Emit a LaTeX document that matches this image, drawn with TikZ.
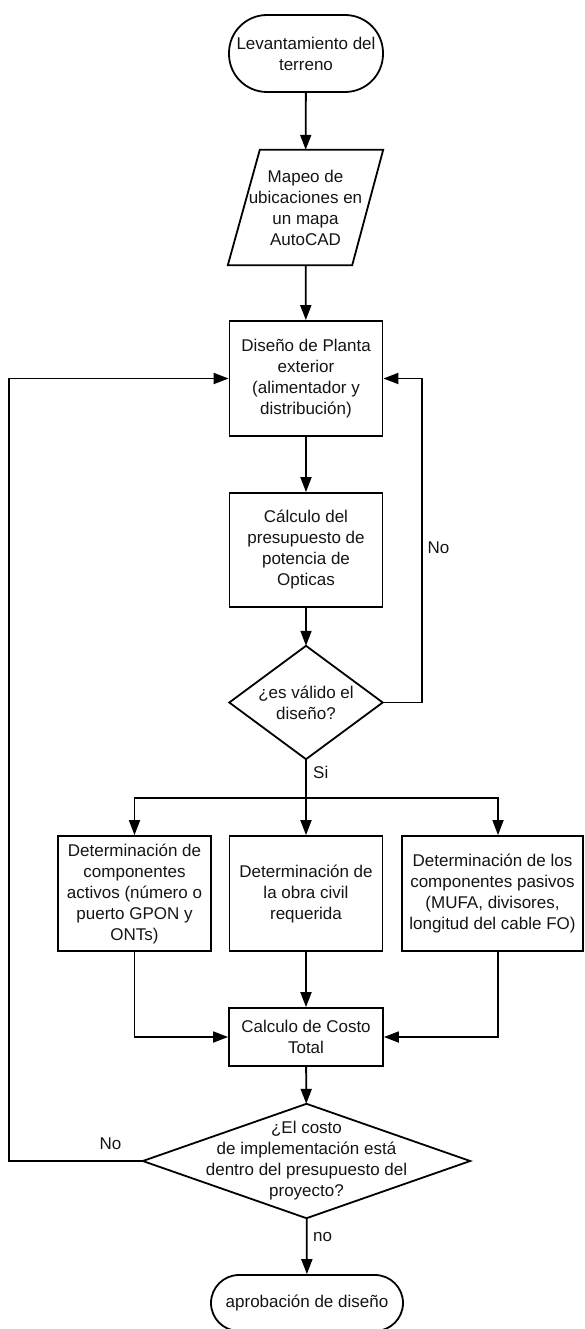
\documentclass[tikz,border=0pt]{standalone}
\usepackage{fontspec}
\setmainfont{Liberation Sans}
\usetikzlibrary{arrows.meta}
\begin{document}
\begin{tikzpicture}[x=1pt,y=-1pt,
  line/.style={line width=1.8pt, line join=miter},
  arr/.style={line, -{Triangle[length=15pt,width=11pt]}},
  txt/.style={font=\fontsize{17}{21}\selectfont, align=center, inner sep=0pt, text=black!92},
  box/.style={txt, draw, line width=1.8pt, minimum width=153pt, minimum height=115pt},
  terminal/.style={box, minimum width=154pt, minimum height=77pt, rounded corners=38pt},
  lbl/.style={font=\fontsize{17}{21}\selectfont, inner sep=0pt, text=black!92},
]
\useasboundingbox (0,0) rectangle (584,1329);
\clip (0,0) rectangle (584,1329);

% process nodes
\node[terminal] (start) at (306,53.5) {Levantamiento del\\terreno};
\node[txt, minimum width=155pt, minimum height=115pt] (mapeo) at (305.5,207.5)
  {Mapeo de\\ubicaciones en\\un mapa\\AutoCAD};
\draw[line] ([xshift=32pt]mapeo.north west) -- (mapeo.north east)
  -- ([xshift=-31pt]mapeo.south east) -- (mapeo.south west) -- cycle;
\node[box] (diseno) at (306,378.5) {Diseño de Planta\\exterior\\(alimentador y\\distribución)};
\node[box, minimum height=114pt] (calc) at (306,550) {Cálculo del\\presupuesto de\\potencia de\\Opticas};
\node[txt, minimum width=153pt, minimum height=113pt] (valid) at (306,702.5) {¿es válido el\\diseño?};
\draw[line] (valid.north) -- (valid.east) -- (valid.south) -- (valid.west) -- cycle;

\node[box] (act) at (134.5,893.5) {Determinación de\\componentes\\activos (número o\\puerto GPON y\\ONTs)};
\node[box] (civil) at (306,893.5) {Determinación de\\la obra civil\\requerida};
\node[box, minimum width=181pt] (pas) at (492.5,893.5) {Determinación de los\\componentes pasivos\\(MUFA, divisores,\\longitud del cable FO)};

\node[box, minimum width=154pt, minimum height=58pt] (costo) at (306,1037) {Calculo de Costo\\Total};
\node[txt, minimum width=327pt, minimum height=114pt] (budget) at (306.5,1161)
  {¿El costo\\de implementación está\\dentro del presupuesto del\\proyecto?};
\draw[line] (budget.north) -- (budget.east) -- (budget.south) -- (budget.west) -- cycle;
\node[terminal, minimum width=192pt, minimum height=56pt, rounded corners=28pt] (fin) at (307,1303) {aprobación de diseño};

% routing points
\coordinate (loopR) at (422,0);
\coordinate (loopL) at (9,0);
\coordinate (split) at (306,798);

% connectors
\draw[arr] (start) -- (mapeo);
\draw[arr] (mapeo) -- (diseno);
\draw[arr] (diseno) -- (calc);
\draw[arr] (calc) -- (valid);
\draw[arr] (valid.east) -- (valid.east -| loopR) |- (diseno.east);
\node[lbl] (lblNo1) at (438.5,548) {No};

\draw[line] (valid.south) -- (split);
\node[lbl, anchor=west] (lblSi) at (313,772) {Si};
\draw[arr] (split) -- (civil);
\draw[arr] (split) -| (act.north);
\draw[arr] (split) -| ([xshift=5.5pt]pas.north);

\draw[arr] (act.south) |- (costo.west);
\draw[arr] (civil) -- (costo);
\draw[arr] ([xshift=5.5pt]pas.south) |- (costo.east);

\draw[arr] (costo) -- (budget);
\draw[arr] (budget) -- (fin);
\node[lbl, anchor=west] (lblno) at (313,1237) {no};
\draw[arr] (budget.west) -- (budget.west -| loopL) |- (diseno.west);
\node[lbl] (lblNo2) at (110.5,1144) {No};
\end{tikzpicture}
\end{document}
